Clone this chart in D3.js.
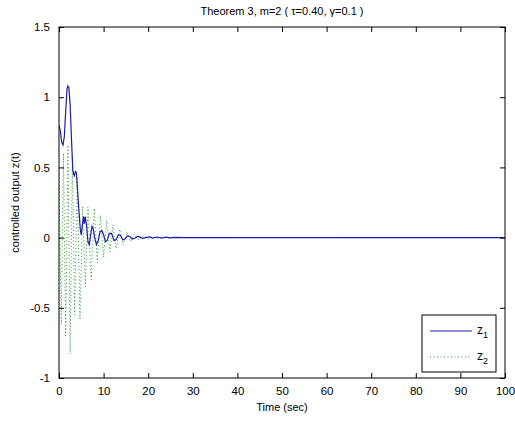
<!DOCTYPE html>
<html><head><meta charset="utf-8">
<script src="https://cdn.jsdelivr.net/npm/d3@7"></script>
<style>body{margin:0;background:#fff;} svg{display:block;} text{font-family:"Liberation Sans",Arial,sans-serif;}</style>
</head><body>
<script>
const xTicks = [0,10,20,30,40,50,60,70,80,90,100];
const yTicks = [-1,-0.5,0,0.5,1,1.5];
const yTickLabels = ["-1","-0.5","0","0.5","1","1.5"];
const seriesNames = ["z1","z2"];
// z1 (t, value)
const z1T = [0,0.3,0.6,0.9,1.2,1.5,1.8,2.0,2.2,2.5,2.8,3.1,3.4,3.7,3.9,4.2,4.5,4.8,5.0,5.2,5.5,5.7,5.9,6.2,6.5,6.8,7.1,7.4,7.7,8.0,8.4,8.8,9.2,9.6,10.0,10.4,10.8,11.3,11.8,12.3,12.8,13.3,13.8,14.3,14.8,15.3,15.8,16.4,17,17.6,18.2,18.8,19.5,20.2,21,22,23,24,25,26,28,100];
const z1V = [0.80,0.76,0.68,0.66,0.72,0.90,1.06,1.08,1.07,0.95,0.70,0.48,0.44,0.47,0.46,0.32,0.18,0.05,0.02,0.08,0.15,0.10,0.15,0.08,-0.03,-0.05,0.02,0.08,0.06,0.0,-0.05,-0.02,0.04,0.05,0.02,-0.03,-0.02,0.03,0.03,-0.02,-0.015,0.02,0.015,-0.015,-0.01,0.012,0.01,-0.01,-0.005,0.008,0.003,-0.006,0.0,0.005,-0.004,0.004,-0.003,0.003,-0.002,0.002,0.0,0.0];
// z2 (t, value)
const z2T = [0,0.5,1.0,1.5,2.0,2.5,3.0,3.5,4.1,4.7,5.3,5.9,6.5,7.2,7.9,8.6,9.3,10.0,10.7,11.4,12.1,12.8,13.6,14.4,15.2,16.0,16.8,17.9,19,20,21,22,23,24.5,26,100];
const z2V = [0.45,-0.62,0.60,-0.70,0.66,-0.83,0.58,-0.55,0.42,-0.58,0.22,-0.35,0.22,-0.30,0.21,-0.18,0.16,-0.14,0.12,-0.10,0.09,-0.08,0.06,-0.05,0.04,-0.03,0.025,-0.02,0.015,-0.01,0.008,-0.006,0.004,-0.003,0.001,0];

const W=515,H=423;
const m={l:59,r:505,t:27,b:378};
const svg=d3.select("body").append("svg").attr("width",W).attr("height",H);
const x=d3.scaleLinear().domain([0,100]).range([m.l,m.r]);
const y=d3.scaleLinear().domain([-1,1.5]).range([m.b,m.t]);

svg.append("defs").append("clipPath").attr("id","clip").append("rect")
  .attr("x",m.l).attr("y",m.t).attr("width",m.r-m.l).attr("height",m.b-m.t);

const line=d3.line().x(d=>x(d[0])).y(d=>y(d[1]));
const d1=z1T.map((t,i)=>[t,z1V[i]]);
const d2=z2T.map((t,i)=>[t,z2V[i]]);
const g=svg.append("g").attr("clip-path","url(#clip)");
g.append("path").datum(d2).attr("d",line).attr("fill","none").attr("stroke","#2f9a2f").attr("stroke-width",1).attr("stroke-dasharray","1,2.5");
g.append("path").datum(d1).attr("d",line).attr("fill","none").attr("stroke","#1c1ca8").attr("stroke-width",1.2);

// axes (ticks inward, all sides)
const fs=11.5;
const ax=svg.append("g").attr("transform",`translate(0,${m.b})`).call(d3.axisBottom(x).tickValues(xTicks).tickSize(-5).tickPadding(9).tickFormat(d3.format("d")));
const axT=svg.append("g").attr("transform",`translate(0,${m.t})`).call(d3.axisTop(x).tickValues(xTicks).tickSize(-5).tickFormat(""));
const ay=svg.append("g").attr("transform",`translate(${m.l},0)`).call(d3.axisLeft(y).tickValues(yTicks).tickSize(-5).tickPadding(9).tickFormat((d,i)=>yTickLabels[i]));
const ayR=svg.append("g").attr("transform",`translate(${m.r},0)`).call(d3.axisRight(y).tickValues(yTicks).tickSize(-5).tickFormat(""));
[ax,axT,ay,ayR].forEach(a=>{a.select(".domain").remove();a.selectAll("line").attr("stroke","#000");a.selectAll("text").attr("fill","#000").style("font-size",fs+"px").style("font-family","'Liberation Sans',Arial,sans-serif");});
svg.append("rect").attr("x",m.l).attr("y",m.t).attr("width",m.r-m.l).attr("height",m.b-m.t).attr("fill","none").attr("stroke","#000").attr("stroke-width",1);

svg.append("text").attr("x",(m.l+m.r)/2).attr("y",15).attr("text-anchor","middle").style("font-size","11px").text("Theorem 3, m=2 ( τ=0.40, γ=0.1 )");
svg.append("text").attr("x",(m.l+m.r)/2).attr("y",411).attr("text-anchor","middle").style("font-size","11px").text("Time (sec)");
svg.append("text").attr("transform",`translate(19,${(m.t+m.b)/2}) rotate(-90)`).attr("text-anchor","middle").style("font-size","11px").text("controlled output z(t)");

// legend
const lg=svg.append("g");
lg.append("rect").attr("x",422).attr("y",315).attr("width",74).attr("height",57).attr("fill","#fff").attr("stroke","#000");
const colors=["#1c1ca8","#2f9a2f"];
const dashes=[null,"1,2.5"];
seriesNames.forEach((n,i)=>{
  const yy=331+i*26;
  lg.append("line").attr("x1",430).attr("x2",472).attr("y1",yy).attr("y2",yy).attr("stroke",colors[i]).attr("stroke-width",1.2).attr("stroke-dasharray",dashes[i]);
  const t=lg.append("text").attr("x",477).attr("y",yy+3).style("font-size","12px").text("z");
  t.append("tspan").attr("dy",4).style("font-size","9px").text(n.slice(1));
});
</script>
</body></html>
